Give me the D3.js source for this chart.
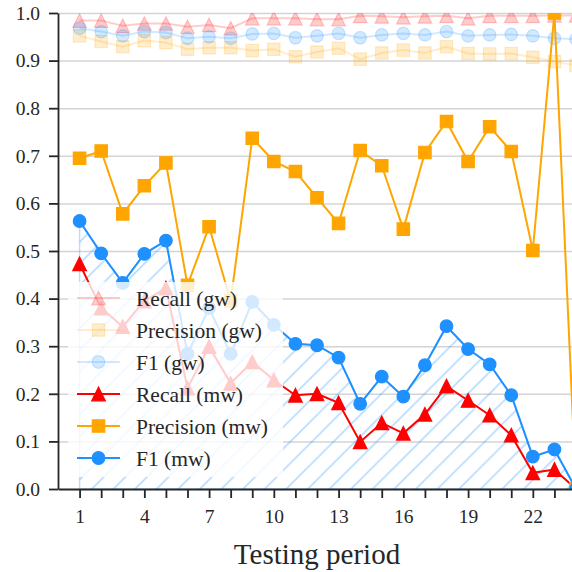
<!DOCTYPE html>
<html>
<head>
<meta charset="utf-8">
<script src="https://cdn.jsdelivr.net/npm/d3@7"></script>
<style>
  body { margin: 0; background: #fff; }
  svg { display: block; }
  text { font-family: "Liberation Serif", "DejaVu Serif", serif; fill: #262626; }
</style>
</head>
<body>
<div id="chart"></div>
<script>
// data
const periods = d3.range(1, 25);
const recallGw    = [0.984,0.984,0.973,0.978,0.978,0.971,0.975,0.968,0.989,0.989,0.989,0.987,0.987,0.994,0.993,0.991,0.993,0.994,0.989,0.994,0.994,0.994,0.995,0.995];
const precisionGw = [0.952,0.940,0.929,0.942,0.938,0.924,0.927,0.927,0.921,0.924,0.908,0.918,0.926,0.903,0.916,0.922,0.916,0.929,0.915,0.914,0.915,0.907,0.898,0.890];
const f1Gw        = [0.968,0.961,0.952,0.961,0.959,0.947,0.950,0.947,0.956,0.957,0.948,0.952,0.957,0.948,0.954,0.957,0.954,0.961,0.952,0.954,0.955,0.952,0.947,0.945];
const recallMw    = [0.473,0.380,0.341,0.395,0.422,0.212,0.299,0.222,0.267,0.229,0.197,0.200,0.181,0.099,0.139,0.117,0.157,0.216,0.186,0.155,0.113,0.034,0.041,0.0];
const precisionMw = [0.695,0.710,0.578,0.637,0.685,0.428,0.551,0.395,0.737,0.688,0.667,0.612,0.558,0.711,0.679,0.546,0.707,0.772,0.688,0.761,0.709,0.501,1.0,0.0];
const f1Mw        = [0.563,0.495,0.433,0.494,0.522,0.284,0.380,0.284,0.393,0.345,0.305,0.302,0.276,0.179,0.236,0.194,0.260,0.342,0.294,0.262,0.197,0.068,0.083,0.0];
const yTicks = d3.range(11).map(i => i / 10);
const xLabelEvery = 3;

const series = [
  {name: "Recall (gw)",     values: recallGw,    color: "red",        marker: "tri", alpha: 0.2},
  {name: "Precision (gw)",  values: precisionGw, color: "orange",     marker: "sq",  alpha: 0.2},
  {name: "F1 (gw)",         values: f1Gw,        color: "dodgerblue", marker: "circ", alpha: 0.2},
  {name: "Recall (mw)",     values: recallMw,    color: "red",        marker: "tri", alpha: 1},
  {name: "Precision (mw)",  values: precisionMw, color: "orange",     marker: "sq",  alpha: 1},
  {name: "F1 (mw)",         values: f1Mw,        color: "dodgerblue", marker: "circ", alpha: 1}
];

const W = 572, H = 572;
const plotLeft = 58, plotTop = 13, plotRight = 576, plotBottom = 489;

const svg = d3.select("#chart").append("svg")
  .attr("width", W).attr("height", H);

const x = d3.scaleLinear().domain([0, 24]).range([plotLeft, plotRight]);
const y = d3.scaleLinear().domain([0, 1]).range([plotBottom, plotTop]);

const defs = svg.append("defs");
defs.append("clipPath").attr("id", "plotclip")
  .append("rect").attr("x", plotLeft).attr("y", plotTop)
  .attr("width", plotRight - plotLeft).attr("height", plotBottom - plotTop);

// hatch for the area under F1 (mw)
const hs = 21.6;
const hatch = defs.append("pattern").attr("id", "hatch")
  .attr("patternUnits", "userSpaceOnUse")
  .attr("width", hs).attr("height", hs)
  .attr("x", 732 % hs);
hatch.append("path")
  .attr("d", `M-2,2 L2,-2 M0,${hs} L${hs},0 M${hs-2},${hs+2} L${hs+2},${hs-2}`)
  .attr("stroke", "dodgerblue").attr("stroke-opacity", 0.32)
  .attr("stroke-width", 1.6);

// grid
svg.append("g")
  .attr("transform", `translate(${plotLeft},0)`)
  .call(d3.axisLeft(y).tickValues(yTicks.slice(1)).tickSize(-(plotRight - plotLeft)).tickFormat(""))
  .call(g => g.select(".domain").remove())
  .call(g => g.selectAll("line").attr("stroke", "#d4d4d4").attr("stroke-width", 1.5));

const plot = svg.append("g").attr("clip-path", "url(#plotclip)");

function markerPath(type) {
  if (type === "tri") return "M0,-6.8L-6.8,6.8L6.8,6.8Z";
  if (type === "sq") return "M-6.2,-6.2H6.2V6.2H-6.2Z";
  return d3.symbol(d3.symbolCircle, Math.PI * 6.3 * 6.3)();
}

// hatched area under F1 (mw)
plot.append("path")
  .datum(periods)
  .attr("fill", "url(#hatch)")
  .attr("stroke", "dodgerblue").attr("stroke-opacity", 0.3).attr("stroke-width", 1.5)
  .attr("d", d3.area()
    .x(d => x(d))
    .y0(y(0))
    .y1((d, i) => y(f1Mw[i])));

series.forEach(s => {
  const g = plot.append("g");
  g.append("path")
    .datum(periods)
    .attr("fill", "none")
    .attr("stroke", s.color).attr("stroke-opacity", s.alpha)
    .attr("stroke-width", 2)
    .attr("d", d3.line()
      .x(d => x(d))
      .y((d, i) => y(s.values[i])));
  g.selectAll("path.m")
    .data(periods)
    .join("path")
      .attr("class", "m")
      .attr("transform", (d, i) => `translate(${x(d)},${y(s.values[i])})`)
      .attr("d", markerPath(s.marker))
      .attr("fill", s.color).attr("fill-opacity", s.alpha)
      .attr("stroke", s.color).attr("stroke-opacity", s.alpha)
      .attr("stroke-width", 1.2);
});

// axes
const yAxis = svg.append("g")
  .attr("transform", `translate(${plotLeft},0)`)
  .call(d3.axisLeft(y).tickValues(yTicks).tickSize(9).tickPadding(9).tickSizeOuter(0).tickFormat(d3.format(".1f")));
const xAxis = svg.append("g")
  .attr("transform", `translate(0,${plotBottom})`)
  .call(d3.axisBottom(x).tickValues(periods).tickSize(9).tickPadding(11).tickSizeOuter(0)
    .tickFormat(d => (d - 1) % xLabelEvery === 0 ? d : ""));
[yAxis, xAxis].forEach(a => {
  a.selectAll(".domain, line").attr("stroke", "#262626").attr("stroke-width", 1.8);
  a.selectAll("text").attr("font-size", 19.5).attr("fill", "#262626")
    .style("font-family", "'Liberation Serif', serif");
});

svg.append("text")
  .attr("x", (plotLeft + plotRight) / 2).attr("y", 564)
  .attr("text-anchor", "middle")
  .attr("font-size", 29)
  .text("Testing period");

// legend
const legend = svg.append("g");
legend.append("rect")
  .attr("x", 68).attr("y", 282).attr("width", 215).attr("height", 195)
  .attr("rx", 4).attr("fill", "white").attr("fill-opacity", 0.8);
series.forEach((s, i) => {
  const ly = 298 + i * 32;
  legend.append("line")
    .attr("x1", 77).attr("x2", 120).attr("y1", ly).attr("y2", ly)
    .attr("stroke", s.color).attr("stroke-opacity", s.alpha).attr("stroke-width", 2);
  legend.append("path")
    .attr("transform", `translate(98.5,${ly})`)
    .attr("d", markerPath(s.marker))
    .attr("fill", s.color).attr("fill-opacity", s.alpha)
    .attr("stroke", s.color).attr("stroke-opacity", s.alpha).attr("stroke-width", 1.2);
  legend.append("text")
    .attr("x", 136).attr("y", ly).attr("dy", "0.35em")
    .attr("font-size", 21.5)
    .text(s.name);
});
</script>
</body>
</html>
